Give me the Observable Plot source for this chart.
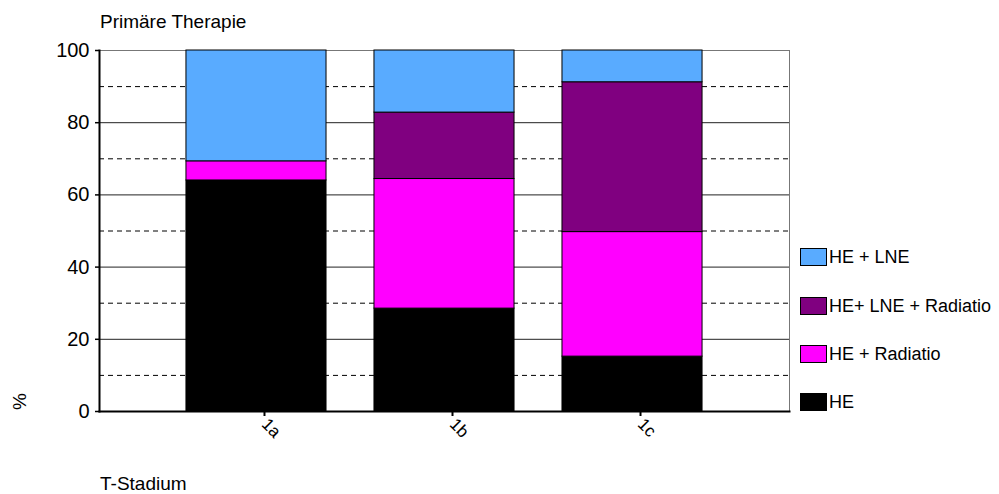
<!DOCTYPE html>
<html>
<head>
<meta charset="utf-8">
<script src="https://cdn.jsdelivr.net/npm/d3@7"></script>
<script src="https://cdn.jsdelivr.net/npm/@observablehq/plot@0.6"></script>
<style>
  html, body { margin: 0; padding: 0; background: #fff; }
  body { font-family: "Liberation Sans", Arial, sans-serif; color: #000; }
  #chart { position: relative; width: 999px; height: 494px; overflow: hidden; }
  #chart svg { position: absolute; left: 0; top: 0; }
  .txt { position: absolute; white-space: nowrap; line-height: 1; }
  .legend-item { position: absolute; display: flex; align-items: center; height: 18px; font-size: 18px; line-height: 1; white-space: nowrap; }
  .swatch { width: 27px; height: 18px; box-sizing: border-box; border: 1px solid #000; margin-right: 2px; }
</style>
</head>
<body>
<div id="chart"></div>
<script>
// T-Stadium categories and the four therapy groups (percent of patients)
const categories = ["1a", "1b", "1c"];
const series = ["HE", "HE + Radiatio", "HE+ LNE + Radiatio", "HE + LNE"];
const valuesHE = [64, 28.5, 15.2];
const valuesHERadiatio = [5.3, 35.9, 34.5];
const valuesHELNERadiatio = [0, 18.4, 41.5];
const valuesHELNE = [30.7, 17.2, 8.8];
const colors = ["#000000", "#ff00ff", "#800080", "#59abff"];
const yTicks = [0, 20, 40, 60, 80, 100];
const gridSolid = [20, 40, 60, 80];
const gridDashed = [10, 30, 50, 70, 90];
const title = "Primäre Therapie";
const xTitle = "T-Stadium";
const yTitle = "%";

// long table, stacked from the bottom in series order
const seriesValues = [valuesHE, valuesHERadiatio, valuesHELNERadiatio, valuesHELNE];
const rows = [];
series.forEach((s, i) => {
  categories.forEach((c, j) => rows.push({cat: c, series: s, value: seriesValues[i][j]}));
});

const chart = Plot.plot({
  width: 999,
  height: 494,
  marginLeft: 99,
  marginRight: 210,
  marginTop: 50,
  marginBottom: 83,
  style: {fontFamily: "'Liberation Sans', Arial, sans-serif", fontSize: "19px", color: "#000", background: "transparent"},
  x: {domain: categories, paddingInner: 0.255, paddingOuter: 0.4625, round: false, label: null},
  y: {domain: [0, 100], label: null},
  color: {domain: series, range: colors},
  marks: [
    Plot.ruleY(gridDashed, {stroke: "#000", strokeWidth: 1, strokeDasharray: "5,4"}),
    Plot.ruleY(gridSolid, {stroke: "#222", strokeWidth: 1}),
    Plot.frame({stroke: "#777"}),
    Plot.barY(rows, {x: "cat", y: "value", fill: "series", stroke: "#000", strokeWidth: 1}),
    Plot.axisY({ticks: yTicks, tickSize: 4, tickPadding: 6, label: null, fontSize: 20, strokeWidth: 1.5}),
    Plot.axisX({tickRotate: 45, tickSize: 5, tickPadding: 5, dx: 8, label: null, fontSize: 17, strokeWidth: 2}),
    Plot.frame({anchor: "left", stroke: "#000", strokeWidth: 2}),
    Plot.frame({anchor: "bottom", stroke: "#000", strokeWidth: 2})
  ]
});

const root = document.getElementById("chart");
root.appendChild(chart);

function addText(str, left, top, size, extra) {
  const d = document.createElement("div");
  d.className = "txt";
  d.textContent = str;
  d.style.left = left + "px";
  d.style.top = top + "px";
  d.style.fontSize = size + "px";
  if (extra) Object.assign(d.style, extra);
  root.appendChild(d);
  return d;
}

addText(title, 100, 12, 19);
addText(xTitle, 100, 474, 19);
addText(yTitle, 11, 392, 19, {transform: "rotate(-90deg)", transformOrigin: "50% 50%"});

// legend, top entry is the top of the stack
const legendTops = [248, 297, 345, 393];
series.slice().reverse().forEach((s, i) => {
  const item = document.createElement("div");
  item.className = "legend-item";
  item.style.left = "800px";
  item.style.top = legendTops[i] + "px";
  const sw = document.createElement("div");
  sw.className = "swatch";
  sw.style.background = colors[series.indexOf(s)];
  const label = document.createElement("span");
  label.textContent = s;
  item.appendChild(sw);
  item.appendChild(label);
  root.appendChild(item);
});
</script>
</body>
</html>
